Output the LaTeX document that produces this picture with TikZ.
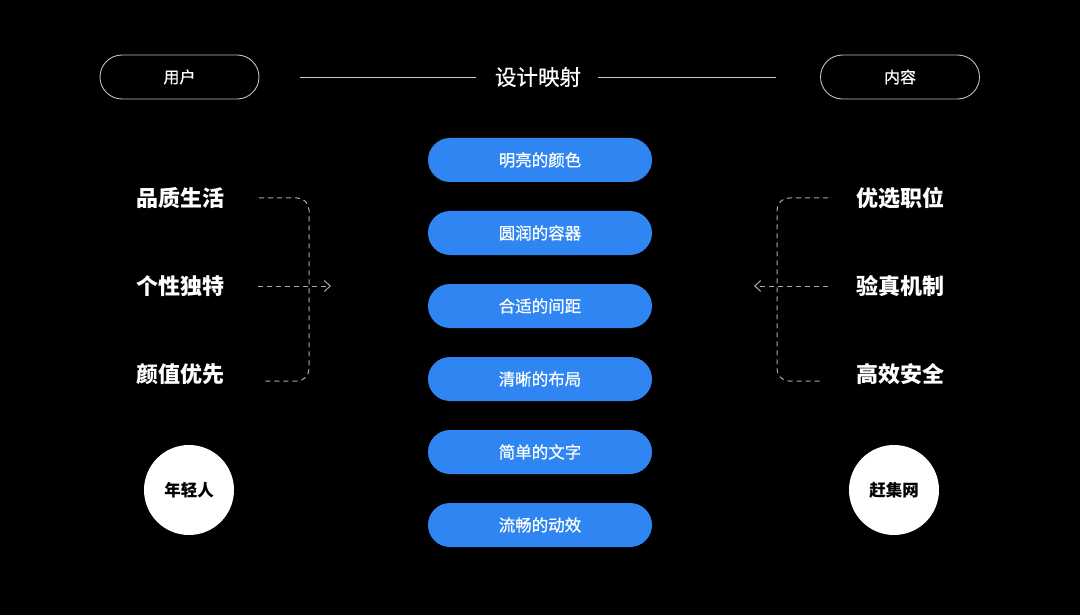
\documentclass[tikz,border=0pt]{standalone}
\usepackage{fontspec}
\setmainfont{Noto Sans CJK SC}
\newfontfamily\medfont{Noto Sans CJK SC}[BoldFont={Noto Sans CJK SC},BoldFeatures={FakeBold=0.6}]
\usetikzlibrary{arrows.meta}
\definecolor{pillblue}{HTML}{2F86F2}
\definecolor{dashgray}{HTML}{A8A8A8}
\begin{document}
\begin{tikzpicture}[x=1pt,y=-1pt,
  outline/.style={draw=white!75!black,line width=0.9pt,rounded corners=22pt,minimum width=159pt,minimum height=44pt,text=white,font=\fontsize{16}{16}\medfont\bfseries},
  bluepill/.style={fill=pillblue,rounded corners=22pt,minimum width=224pt,minimum height=44pt,text=white,font=\fontsize{16.5}{16.5}\medfont\bfseries},
  biglabel/.style={text=white,font=\fontsize{22}{22}\selectfont\bfseries},
  circ/.style={circle,fill=white,minimum size=90pt,text=black,font=\fontsize{16.5}{16.5}\selectfont\bfseries},
  dashline/.style={draw=dashgray,line width=1pt,dash pattern=on 5pt off 4pt},
  rule/.style={draw=white!80!black,line width=0.8pt}]
\fill[black] (0,0) rectangle (1080,615);
\useasboundingbox (0,0) rectangle (1080,615);
% top
\node[outline] (user) at (179.5,77) {用户};
\node[outline] (content) at (900,77) {内容};
\node[text=white,font=\fontsize{21.5}{21.5}\medfont\bfseries,inner xsep=0pt] (title) at (538,77) {设计映射};
\coordinate (l1) at (300,77);
\coordinate (l2) at (476,77);
\coordinate (r1) at (598,77);
\coordinate (r2) at (776,77);
\draw[rule] (l1) -- (l2);
\draw[rule] (r1) -- (r2);
% blue pills
\node[bluepill] (p1) at (540,160) {明亮的颜色};
\node[bluepill] (p2) at (540,233) {圆润的容器};
\node[bluepill] (p3) at (540,306) {合适的间距};
\node[bluepill] (p4) at (540,379) {清晰的布局};
\node[bluepill] (p5) at (540,452) {简单的文字};
\node[bluepill] (p6) at (540,525) {流畅的动效};
% left labels
\node[biglabel] (a1) at (180,198) {品质生活};
\node[biglabel] (a2) at (180,286) {个性独特};
\node[biglabel] (a3) at (180,374) {颜值优先};
% right labels
\node[biglabel] (b1) at (900,198) {优选职位};
\node[biglabel] (b2) at (900,286) {验真机制};
\node[biglabel] (b3) at (900,374) {高效安全};
% circles
\node[circ] (young) at (189,490) {年轻人};
\node[circ] (ganji) at (894,490) {赶集网};
% left bracket
\coordinate (la) at (259,198);
\coordinate (lb) at (262,381);
\coordinate (lm) at (258,286);
\coordinate (lt) at (331,286);
\draw[dashline,rounded corners=12pt] (la) -- (309,198) -- (309,381) -- (lb);
\draw[dashline,-{Straight Barb[length=6pt,width=11pt]}] (lm) -- (lt);
% right bracket
\coordinate (ra) at (828,198);
\coordinate (rb) at (823,381);
\coordinate (rm) at (828,286);
\coordinate (rt) at (754,286);
\draw[dashline,rounded corners=12pt] (ra) -- (777,198) -- (777,381) -- (rb);
\draw[dashline,-{Straight Barb[length=6pt,width=11pt]}] (rm) -- (rt);
\end{tikzpicture}
\end{document}
